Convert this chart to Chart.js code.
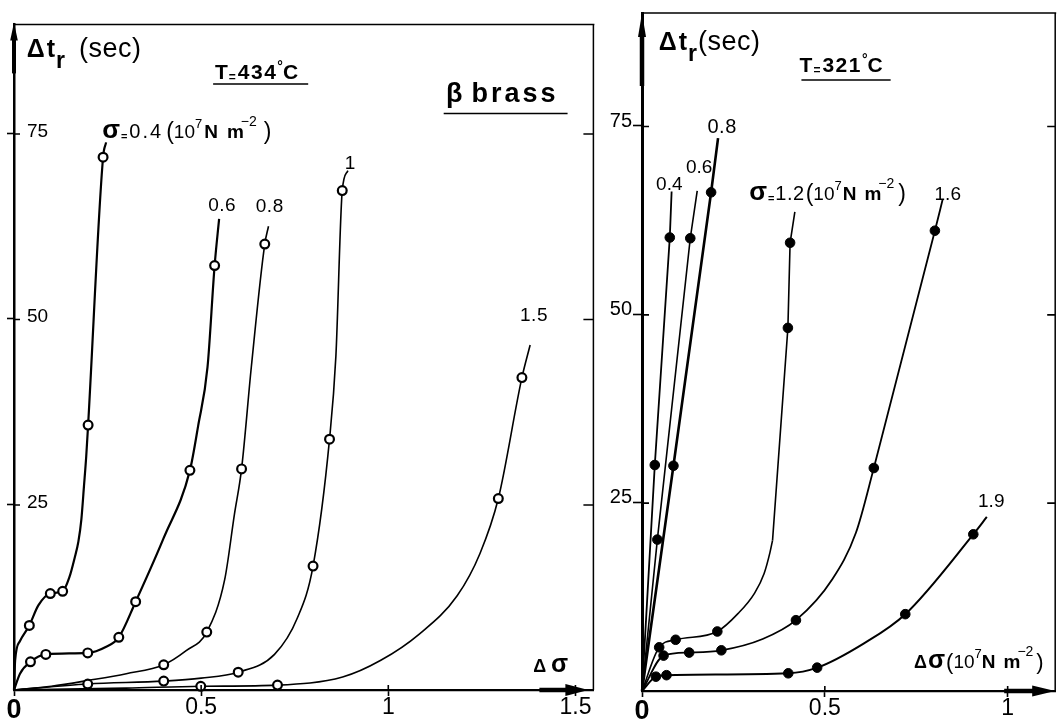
<!DOCTYPE html>
<html><head><meta charset="utf-8">
<script src="https://cdn.jsdelivr.net/npm/chart.js@4"></script>
<style>
html,body{margin:0;padding:0;background:#fff;}
#wrap{position:relative;width:1061px;height:720px;overflow:hidden;background:#fff;}
#c1{position:absolute;left:0;top:0;}
#c2{position:absolute;left:600px;top:0;}
</style></head><body>
<div id="wrap"><canvas id="c1" width="600" height="720"></canvas><canvas id="c2" width="461" height="720"></canvas></div>
<script>
// ---------- DATA (Δσ in 10^7 N m^-2, Δt_r in sec) ----------
// Left panel: T = 434 °C (open circles)
const leftXTicks = [0, 0.5, 1, 1.5];
const leftXTickLabels = ['0', '0.5', '1', '1.5'];
const leftYTicks = [25, 50, 75];
const leftYTickLabels = ['25', '50', '75'];

const l04Pts  = [[0.041,8.7],[0.097,13.0],[0.130,13.3],[0.198,35.7],[0.238,71.8]];
const l04Line = [[0,0],[0.003,4.0],[0.016,6.6],[0.041,8.7],[0.065,11.4],[0.097,13.0],[0.130,13.3],[0.148,15.2],[0.162,17.8],[0.172,20.0],[0.180,23.0],[0.187,27.5],[0.193,31.5],[0.198,35.7],[0.238,71.8],[0.246,73.8]];
const l06Pts  = [[0.044,3.8],[0.085,4.8],[0.197,5.0],[0.280,7.1],[0.325,11.9],[0.470,29.6],[0.536,57.2]];
const l06Line = [[0,0],[0.016,2.2],[0.044,3.8],[0.085,4.8],[0.197,5.0],[0.245,5.8],[0.280,7.1],[0.325,11.9],[0.400,20.5],[0.470,29.6],[0.492,35.6],[0.517,43.5],[0.536,57.2],[0.548,63.5]];
const l08Pts  = [[0.400,3.4],[0.515,7.8],[0.608,29.8],[0.670,60.1]];
const l08Line = [[0,0],[0.10,0.5],[0.20,1.3],[0.30,2.2],[0.400,3.4],[0.46,5.3],[0.515,7.8],[0.563,14.9],[0.589,23.7],[0.608,29.8],[0.634,43.5],[0.670,60.1],[0.680,62.5]];
const l10Pts  = [[0.197,0.8],[0.400,1.2],[0.599,2.4],[0.799,16.7],[0.843,33.8],[0.877,67.3]];
const l10Line = [[0,0],[0.197,0.8],[0.400,1.2],[0.50,1.6],[0.599,2.4],[0.696,4.8],[0.757,9.7],[0.799,16.7],[0.843,33.8],[0.860,45.0],[0.877,67.3],[0.892,70.0]];
const l15Pts  = [[0.499,0.5],[0.704,0.66],[1.294,25.8],[1.357,42.1]];
const l15Line = [[0,0],[0.30,0.25],[0.499,0.5],[0.704,0.66],[0.878,1.75],[0.98,4.0],[1.082,7.5],[1.184,12.7],[1.245,18.4],[1.294,25.8],[1.357,42.1],[1.379,46.5]];

// Right panel: T = 321 °C (filled dots)
const rightXTicks = [0, 0.5, 1];
const rightXTickLabels = ['0', '0.5', '1'];
const rightYTicks = [25, 50, 75];
const rightYTickLabels = ['25', '50', '75'];

const r04Pts  = [[0.035,30.0],[0.076,60.2]];
const r04Line = [[0,0],[0.035,30.0],[0.076,60.2],[0.081,66.3]];
const r06Pts  = [[0.042,20.1],[0.132,60.1]];
const r06Line = [[0,0],[0.042,20.1],[0.132,60.1],[0.151,66.4]];
const r08Pts  = [[0.086,29.9],[0.189,66.2]];
const r08Line = [[0,0],[0.086,29.9],[0.189,66.2],[0.208,73.4]];
const r12Pts  = [[0.047,5.8],[0.092,6.8],[0.206,7.9],[0.399,48.2],[0.405,59.5]];
const r12Line = [[0,0],[0.047,5.8],[0.092,6.8],[0.206,7.9],[0.263,10.3],[0.308,13.0],[0.334,15.6],[0.350,18.4],[0.357,20.0]];
const r12Top  = [[0.357,20.0],[0.399,48.2],[0.405,59.5],[0.418,63.6]];
const r16Pts  = [[0.059,4.7],[0.129,5.1],[0.217,5.4],[0.421,9.4],[0.634,29.6],[0.801,61.1]];
const r16Line = [[0,0],[0.059,4.7],[0.129,5.1],[0.217,5.4],[0.33,6.9],[0.421,9.4],[0.52,14.8],[0.585,21.0],[0.634,29.6],[0.801,61.1],[0.822,65.2]];
const r19Pts  = [[0.038,1.9],[0.067,2.1],[0.400,2.35],[0.479,3.1],[0.720,10.2],[0.906,20.8]];
const r19Line = [[0,0],[0.038,1.9],[0.067,2.1],[0.400,2.35],[0.479,3.1],[0.606,6.3],[0.720,10.2],[0.906,20.8],[0.943,23.1]];

// ---------- STYLE / LAYOUT ----------
const FF = "'Liberation Sans', Arial, sans-serif";
Chart.defaults.font.family = FF;
Chart.defaults.color = '#000';

const leftSeries = [
  {line:l04Line, pts:l04Pts, w:2.2}, {line:l06Line, pts:l06Pts, w:2.2},
  {line:l08Line, pts:l08Pts, w:1.6}, {line:l10Line, pts:l10Pts, w:1.6},
  {line:l15Line, pts:l15Pts, w:1.6}
];
const rightSeries = [
  {line:r04Line, pts:r04Pts, w:1.8, straight:true}, {line:r06Line, pts:r06Pts, w:1.6, straight:true},
  {line:r08Line, pts:r08Pts, w:2.6, straight:true}, {line:r12Line, top:r12Top, pts:r12Pts, w:1.6},
  {line:r16Line, pts:r16Pts, w:1.8}, {line:r19Line, pts:r19Pts, w:2.0}
];

// labels placed in data coordinates
const leftNotes = [
  {x:0.034, y:85.35, parts:[{t:'Δ',s:25,b:1},{t:'t',s:25,b:1,gap:2},{t:'r',s:23,b:1,dy:11,gap:1},{t:'(sec)',s:27,gap:14,ls:0.5}]},
  {x:0.537, y:82.3, parts:[{t:'T',s:21,b:1},{t:'=',s:12,b:1,gap:1,dy:2},{t:'434',s:21,b:1,ls:1.5,gap:2},{t:'°',s:14,b:1,dy:-8},{t:'C',s:21,b:1,gap:0}]},
  {x:1.154, y:79.3, parts:[{t:'β',s:27,b:1},{t:'brass',s:27,b:1,ls:3,gap:9}]},
  {x:0.2355, y:74.4, parts:[{t:'σ',s:26,b:1},{t:'=',s:11,b:1,gap:1,dy:2},{t:'0.4',s:20,ls:2,gap:2},{t:'(',s:23,gap:3,dy:1},{t:'10',s:19},{t:'7',s:13,dy:-10},{t:'N',s:19,b:1,gap:2},{t:'m',s:19,b:1,gap:9},{t:'−2',s:14,dy:-12,gap:-3},{t:')',s:23,gap:7,dy:1}]},
  {x:0.519, y:64.5, parts:[{t:'0.6',s:19,ls:0.5}]},
  {x:0.646, y:64.4, parts:[{t:'0.8',s:19,ls:0.5}]},
  {x:0.884, y:70.2, parts:[{t:'1',s:19}]},
  {x:1.352, y:49.7, parts:[{t:'1.5',s:19,ls:0.5}]},
  {x:1.387, y:2.37, parts:[{t:'Δ',s:18,b:1},{t:'σ',s:25,b:1,gap:5}]}
];
const leftLines = [ {x1:0.532, x2:0.786, y:81.66}, {x1:1.148, x2:1.479, y:77.7} ];

const rightNotes = [
  {x:0.046, y:85.1, parts:[{t:'Δ',s:25,b:1},{t:'t',s:25,b:1,gap:2},{t:'r',s:23,b:1,dy:11,gap:1},{t:'(sec)',s:27,gap:1,ls:0.5}]},
  {x:0.431, y:82.2, parts:[{t:'T',s:21,b:1},{t:'=',s:12,b:1,gap:1,dy:2},{t:'321',s:21,b:1,ls:1.5,gap:2},{t:'°',s:14,b:1,dy:-8},{t:'C',s:21,b:1,gap:0}]},
  {x:0.0385, y:66.5, parts:[{t:'0.4',s:19,ls:0}]},
  {x:0.120, y:68.8, parts:[{t:'0.6',s:19,ls:0}]},
  {x:0.179, y:74.1, parts:[{t:'0.8',s:20,ls:0.5}]},
  {x:0.293, y:65.2, parts:[{t:'σ',s:26,b:1},{t:'=',s:11,b:1,gap:1,dy:2},{t:'1.2',s:20,ls:0.5,gap:1},{t:'(',s:23,gap:1,dy:1},{t:'10',s:19},{t:'7',s:13,dy:-10},{t:'N',s:19,b:1,gap:1},{t:'m',s:19,b:1,gap:8},{t:'−2',s:14,dy:-12,gap:-3},{t:')',s:23,gap:4,dy:1}]},
  {x:0.800, y:65.2, parts:[{t:'1.6',s:19,ls:0}]},
  {x:0.919, y:24.4, parts:[{t:'1.9',s:19,ls:0}]},
  {x:0.744, y:3.05, parts:[{t:'Δ',s:18,b:1},{t:'σ',s:25,b:1,gap:1},{t:'(',s:22,gap:1,dy:1},{t:'10',s:19},{t:'7',s:13,dy:-10},{t:'N',s:19,b:1,gap:0},{t:'m',s:19,b:1,gap:8},{t:'−2',s:14,dy:-12,gap:-3},{t:')',s:22,gap:3,dy:1}]}
];
const rightLines = [ {x1:0.436, x2:0.680, y:81.1} ];

// ---------- DRAWING HELPERS ----------
function pairs(a){ return a.map(p => ({x:p[0], y:p[1]})); }

function drawRich(ctx, x, y, parts){
  let cx = x;
  ctx.textAlign = 'left'; ctx.textBaseline = 'alphabetic'; ctx.fillStyle = '#000';
  for (const p of parts){
    ctx.font = (p.b ? 'bold ' : '') + p.s + 'px ' + FF;
    cx += (p.gap || 0);
    const ls = p.ls || 0;
    for (const ch of p.t){
      ctx.fillText(ch, cx, y + (p.dy || 0));
      cx += ctx.measureText(ch).width + ls;
    }
  }
}

const decor = {
  id: 'decor',
  afterDraw(chart, args, o){
    const {ctx, chartArea:a, scales:{x, y}} = chart;
    ctx.save();
    ctx.strokeStyle = '#000'; ctx.fillStyle = '#000';
    ctx.lineWidth = o.frameW;
    ctx.beginPath(); ctx.moveTo(a.left, a.top); ctx.lineTo(a.right + 1, a.top);
    ctx.moveTo(a.right, a.top); ctx.lineTo(a.right, a.bottom); ctx.stroke();
    ctx.lineWidth = 1.6;
    ctx.beginPath();
    for (const v of o.yTicks){
      const py = y.getPixelForValue(v) + 0.5;
      ctx.moveTo(a.left, py); ctx.lineTo(a.left + o.innerY, py);
      ctx.moveTo(a.right - o.rightTick, py); ctx.lineTo(a.right, py);
    }
    for (const v of o.xTicks){
      if (v === 0) continue;
      const px = x.getPixelForValue(v);
      ctx.moveTo(px, a.bottom); ctx.lineTo(px, a.bottom - o.innerX);
    }
    ctx.stroke();
    const yx = a.left;
    ctx.beginPath();
    ctx.moveTo(yx, a.top + o.yArrow.tip); ctx.lineTo(yx - o.yArrow.hw, a.top + o.yArrow.base);
    ctx.lineTo(yx + o.yArrow.hw, a.top + o.yArrow.base); ctx.closePath(); ctx.fill();
    ctx.fillRect(yx - o.yArrow.sw/2, a.top + o.yArrow.base - 1, o.yArrow.sw, o.yArrow.shaft);
    const xb = a.bottom;
    ctx.beginPath();
    ctx.moveTo(a.right - o.xArrow.tip, xb); ctx.lineTo(a.right - o.xArrow.base, xb - o.xArrow.hh);
    ctx.lineTo(a.right - o.xArrow.base, xb + o.xArrow.hh); ctx.closePath(); ctx.fill();
    ctx.fillRect(a.right - o.xArrow.base - o.xArrow.shaft, xb - o.xArrow.sw/2, o.xArrow.shaft + 1, o.xArrow.sw);
    ctx.lineWidth = 1.6;
    ctx.beginPath();
    for (const l of o.lines){
      const py = y.getPixelForValue(l.y);
      ctx.moveTo(x.getPixelForValue(l.x1), py); ctx.lineTo(x.getPixelForValue(l.x2), py);
    }
    ctx.stroke();
    for (const n of o.notes){
      drawRich(ctx, x.getPixelForValue(n.x), y.getPixelForValue(n.y), n.parts);
    }
    ctx.restore();
  }
};

function buildDatasets(series, m){
  const ds = [];
  for (const s of series){
    ds.push({type:'line', data:pairs(s.line), borderColor:'#000', borderWidth:s.w, pointRadius:0,
      fill:false, tension: s.straight ? 0 : 0.4, cubicInterpolationMode: s.straight ? 'default' : 'monotone',
      order:2, clip:false});
    if (s.top) ds.push({type:'line', data:pairs(s.top), borderColor:'#000', borderWidth:s.w, pointRadius:0,
      fill:false, tension:0, order:2, clip:false});
    ds.push({type:'scatter', data:pairs(s.pts), pointRadius:m.r, pointHoverRadius:m.r,
      pointBackgroundColor:m.fill, pointBorderColor:'#000', pointBorderWidth:m.bw, showLine:false, order:1, clip:false});
  }
  return ds;
}

function makeChart(el, c){
  return new Chart(el, {
    data: {datasets: buildDatasets(c.series, c.marker)},
    options: {
      responsive:false, animation:false, devicePixelRatio:1,
      layout:{padding:{top:c.top, right:c.right, left:0, bottom:0}},
      plugins:{legend:{display:false}, tooltip:{enabled:false}, decor:c.decor},
      scales:{
        x:{type:'linear', position:'bottom', min:0, max:c.xMax, offset:false,
          afterBuildTicks: s => { s.ticks = c.xTicks.map(v => ({value:v})); },
          afterFit: s => { s.height = c.xH; },
          border:{color:'#000', width:c.xBorder},
          grid:{drawOnChartArea:false, tickLength:c.xTickLen, tickColor:'#000', tickWidth:1.6},
          ticks:{autoSkip:false, maxRotation:0, minRotation:0, padding:c.xPad, color:'#000',
            callback:(v, i) => c.xLabels[i],
            font: ctx => (ctx.tick && ctx.tick.value === 0) ? {size:27, weight:'bold', family:FF} : {size:23, family:FF}}
        },
        y:{type:'linear', position:'left', min:0, max:c.yMax,
          afterBuildTicks: s => { s.ticks = c.yTicks.map(v => ({value:v})); },
          afterFit: s => { s.width = c.yW; },
          border:{color:'#000', width:c.yBorder},
          grid:{drawOnChartArea:false, tickLength:c.yTickLen, tickColor:'#000', tickWidth:1.6},
          ticks:{autoSkip:false, mirror:c.mirror, padding:c.yPad, labelOffset:c.yLabOff, color:'#000',
            callback:(v, i) => c.yLabels[i], font:{size:c.yFont, family:FF}}
        }
      }
    },
    plugins:[decor]
  });
}

makeChart(document.getElementById('c1'), {
  series:leftSeries, marker:{r:4.4, fill:'#fff', bw:2.2},
  top:9, right:1, xMax:1.548, yMax:89.7, xH:30, yW:14,
  xTicks:leftXTicks, xLabels:leftXTickLabels, yTicks:leftYTicks, yLabels:leftYTickLabels,
  xBorder:2.2, yBorder:2.5, xTickLen:6, yTickLen:7, xPad:-2, yPad:13, yLabOff:-2, yFont:19, mirror:true,
  decor:{frameW:1.5, yTicks:leftYTicks, xTicks:leftXTicks, innerY:6, innerX:5, rightTick:10,
    yArrow:{tip:-2, base:16, hw:3.8, sw:4, shaft:34}, xArrow:{tip:5, base:28, hh:6, sw:4.5, shaft:26},
    lines:leftLines, notes:leftNotes}
});

makeChart(document.getElementById('c2'), {
  series:rightSeries, marker:{r:4.8, fill:'#000', bw:1},
  top:13, right:1, xMax:1.13, yMax:90, xH:29, yW:42,
  xTicks:rightXTicks, xLabels:rightXTickLabels, yTicks:rightYTicks, yLabels:rightYTickLabels,
  xBorder:2.2, yBorder:3, xTickLen:6, yTickLen:9, xPad:-2, yPad:1, yLabOff:-5, yFont:20, mirror:false,
  decor:{frameW:1.5, yTicks:rightYTicks, xTicks:rightXTicks, innerY:7, innerX:5, rightTick:8,
    yArrow:{tip:0, base:24, hw:4, sw:4.5, shaft:50}, xArrow:{tip:0, base:23, hh:5.5, sw:4.5, shaft:28},
    lines:rightLines, notes:rightNotes}
});
</script>
</body></html>
